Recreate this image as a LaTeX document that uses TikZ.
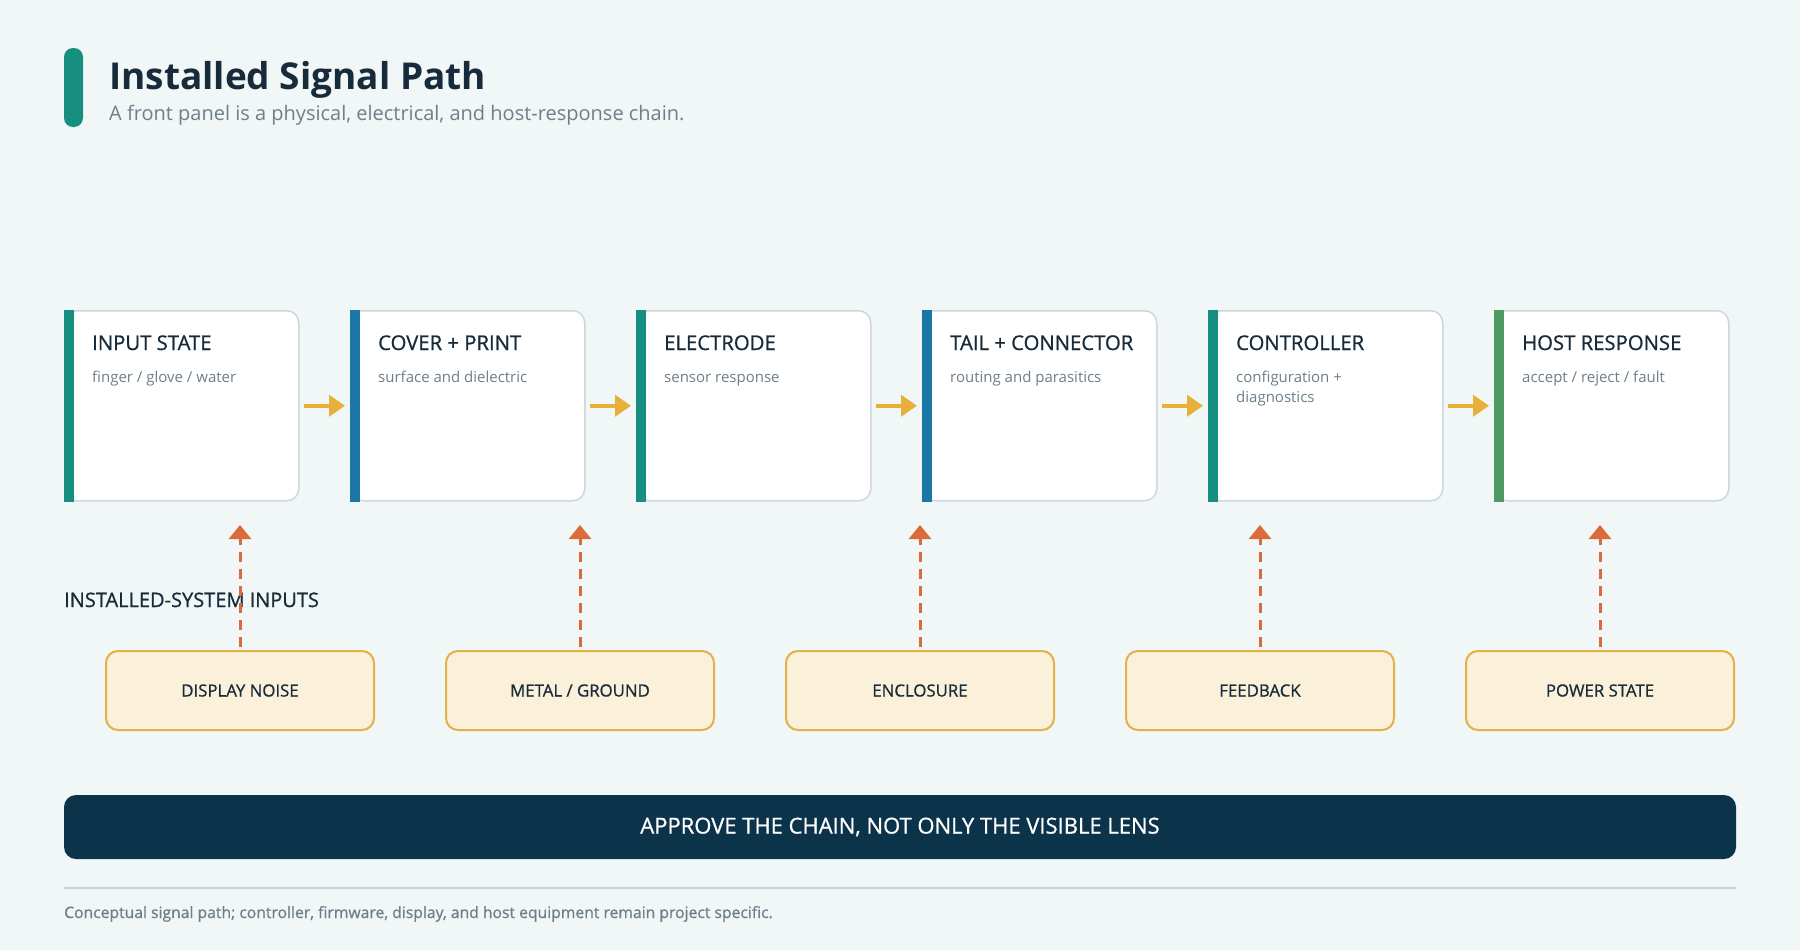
\documentclass[tikz,border=0pt]{standalone}
\usepackage{fontspec}
\setmainfont{Open Sans}
\newfontfamily\medium[FakeBold=0.8]{Open Sans}
\usetikzlibrary{arrows.meta}

\definecolor{pagebg}{HTML}{F1F6F7}
\definecolor{ink}{HTML}{172B3A}
\definecolor{mute}{HTML}{6E7F89}
\definecolor{cardline}{HTML}{CBD8DE}
\definecolor{teal}{HTML}{178F80}
\definecolor{steel}{HTML}{1A77A8}
\definecolor{leaf}{HTML}{4F9A63}
\definecolor{gold}{HTML}{E6B03A}
\definecolor{rust}{HTML}{D96C3A}
\definecolor{sand}{HTML}{FBF0D9}
\definecolor{sandline}{HTML}{E3B14A}
\definecolor{navy}{HTML}{0B3349}
\definecolor{rulegray}{HTML}{C8D2D8}

\tikzset{
  card/.style={draw=cardline, line width=1.5pt, fill=white, rounded corners=12pt,
    minimum width=234pt, minimum height=190pt, anchor=north west, inner sep=0pt},
  cardtitle/.style={anchor=base west, inner sep=0pt, text=ink,
    font=\medium\fontsize{20.3}{24}\selectfont},
  cardnote/.style={anchor=base west, inner sep=0pt, text=mute, align=left,
    font=\fontsize{15}{20}\selectfont},
  flow/.style={draw=gold, line width=4pt, -{Triangle[width=21pt,length=16pt]},
    shorten <=4pt, shorten >=5pt},
  influence/.style={draw=sandline, line width=2pt, fill=sand, rounded corners=12pt,
    minimum width=268pt, minimum height=79pt, inner sep=0pt, text=ink,
    font=\medium\fontsize{16.8}{20}\selectfont},
  push/.style={draw=rust, line width=3pt, dash pattern=on 10pt off 7pt,
    -{Triangle[width=22pt,length=14pt,sep=0pt]}, shorten <=3pt}
}

\begin{document}
\begin{tikzpicture}[x=1pt, y=-1pt]
\fill[pagebg] (0,0) rectangle (1800,950);
\useasboundingbox (0,0) rectangle (1800,950);

\fill[teal, rounded corners=9pt] (64,48) rectangle (83,127);
\node[anchor=base west, inner sep=0pt, text=ink, font=\fontsize{37}{44}\selectfont\bfseries]
  (title) at (109,90) {Installed Signal Path};
\node[anchor=base west, inner sep=0pt, text=mute, font=\fontsize{20}{24}\selectfont]
  (subtitle) at (109,121) {A front panel is a physical, electrical, and host-response chain.};

\node[card] (input) at (64,310) {};
\fill[teal] (input.north west) rectangle ([xshift=10pt]input.south west);
\node[cardtitle] (inputT) at ([xshift=28pt,yshift=-40pt]input.north west) {INPUT STATE};
\node[cardnote] (inputN) at ([xshift=28pt,yshift=-72pt]input.north west) {finger / glove / water};

\node[card] (cover) at (350,310) {};
\fill[steel] (cover.north west) rectangle ([xshift=10pt]cover.south west);
\node[cardtitle] (coverT) at ([xshift=28pt,yshift=-40pt]cover.north west) {COVER + PRINT};
\node[cardnote] (coverN) at ([xshift=28pt,yshift=-72pt]cover.north west) {surface and dielectric};

\node[card] (electrode) at (636,310) {};
\fill[teal] (electrode.north west) rectangle ([xshift=10pt]electrode.south west);
\node[cardtitle] (electrodeT) at ([xshift=28pt,yshift=-40pt]electrode.north west) {ELECTRODE};
\node[cardnote] (electrodeN) at ([xshift=28pt,yshift=-72pt]electrode.north west) {sensor response};

\node[card] (tail) at (922,310) {};
\fill[steel] (tail.north west) rectangle ([xshift=10pt]tail.south west);
\node[cardtitle] (tailT) at ([xshift=28pt,yshift=-40pt]tail.north west) {TAIL + CONNECTOR};
\node[cardnote] (tailN) at ([xshift=28pt,yshift=-72pt]tail.north west) {routing and parasitics};

\node[card] (controller) at (1208,310) {};
\fill[teal] (controller.north west) rectangle ([xshift=10pt]controller.south west);
\node[cardtitle] (controllerT) at ([xshift=28pt,yshift=-40pt]controller.north west) {CONTROLLER};
\node[cardnote] (controllerN) at ([xshift=28pt,yshift=-92pt]controller.north west) {configuration +\\diagnostics};

\node[card] (host) at (1494,310) {};
\fill[leaf] (host.north west) rectangle ([xshift=10pt]host.south west);
\node[cardtitle] (hostT) at ([xshift=28pt,yshift=-40pt]host.north west) {HOST RESPONSE};
\node[cardnote] (hostN) at ([xshift=28pt,yshift=-72pt]host.north west) {accept / reject / fault};

\draw[flow] (input.east) -- (cover.west);
\draw[flow] (cover.east) -- (electrode.west);
\draw[flow] (electrode.east) -- (tail.west);
\draw[flow] (tail.east) -- (controller.west);
\draw[flow] (controller.east) -- (host.west);

\node[anchor=base west, inner sep=0pt, text=ink, font=\medium\fontsize{20}{24}\selectfont]
  (inputs) at (64,607) {INSTALLED-SYSTEM INPUTS};

\node[influence] (noise) at (240,690.5) {DISPLAY NOISE};
\node[influence] (metal) at (580,690.5) {METAL / GROUND};
\node[influence] (enclosure) at (920,690.5) {ENCLOSURE};
\node[influence] (feedback) at (1260,690.5) {FEEDBACK};
\node[influence] (power) at (1600,690.5) {POWER STATE};

\coordinate (noiseTip) at (240,525);
\coordinate (metalTip) at (580,525);
\coordinate (enclosureTip) at (920,525);
\coordinate (feedbackTip) at (1260,525);
\coordinate (powerTip) at (1600,525);

\draw[push] (noise.north) -- (noiseTip);
\draw[push] (metal.north) -- (metalTip);
\draw[push] (enclosure.north) -- (enclosureTip);
\draw[push] (feedback.north) -- (feedbackTip);
\draw[push] (power.north) -- (powerTip);

\node[fill=navy, rounded corners=12pt, minimum width=1672pt, minimum height=64pt,
  inner sep=0pt, text=white, font=\medium\fontsize{22}{26}\selectfont]
  (approve) at (900,827) {APPROVE THE CHAIN, NOT ONLY THE VISIBLE LENS};

\coordinate (ruleL) at (64,888);
\coordinate (ruleR) at (1736,888);
\draw[rulegray, line width=2pt] (ruleL) -- (ruleR);
\node[anchor=base west, inner sep=0pt, text=mute, font=\medium\fontsize{15.7}{19}\selectfont]
  (foot) at (64,918) {Conceptual signal path; controller, firmware, display, and host equipment remain project specific.};
\end{tikzpicture}
\end{document}
